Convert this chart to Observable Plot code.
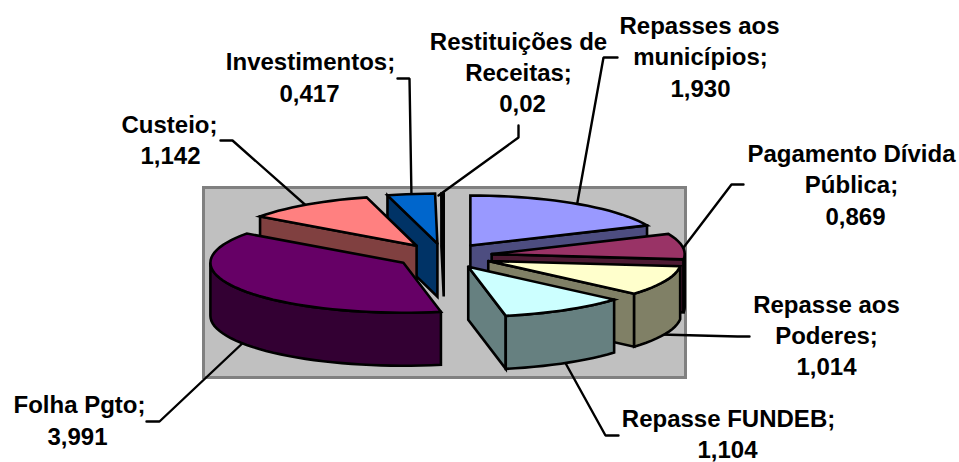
<!DOCTYPE html>
<html>
<head>
<meta charset="utf-8">
<style>html,body{margin:0;padding:0;background:#fff}svg{display:block}</style>
<script src="https://cdn.jsdelivr.net/npm/d3@7"></script>
<script src="https://cdn.jsdelivr.net/npm/@observablehq/plot@0.6"></script>
</head>
<body>
<div id="chart"></div>
<script>
// Data, clockwise from 12 o'clock
const categories = ["Repasses aos municípios", "Pagamento Dívida Pública", "Repasse aos Poderes", "Repasse FUNDEB", "Folha Pgto", "Custeio", "Investimentos", "Restituições de Receitas"];
const values = [1.930, 0.869, 1.014, 1.104, 3.991, 1.142, 0.417, 0.02];
const topColors = ["#9999FF", "#993366", "#FFFFCC", "#CCFFFF", "#660066", "#FF8080", "#0066CC", "#CCCCFF"];
// Back-to-front paint order (indices into categories)
const paintOrder = [0, 1, 2, 3, 7, 6, 5, 4];

// Text labels: [text, centre x, centre y]
const labelText = [
  ["Repasses aos", 699, 26], ["municípios;", 700, 57], ["1,930", 700, 89],
  ["Pagamento Dívida", 851, 154], ["Pública;", 851, 185], ["0,869", 855, 217],
  ["Repasse aos", 826, 305], ["Poderes;", 826, 336], ["1,014", 826, 367],
  ["Repasse FUNDEB;", 728, 419], ["1,104", 727, 450],
  ["Folha Pgto;", 79, 405], ["3,991", 77, 437],
  ["Custeio;", 169, 125], ["1,142", 170, 156],
  ["Investimentos;", 310, 62], ["0,417", 309, 94],
  ["Restituições de", 518, 42], ["Receitas;", 518, 73], ["0,02", 522, 104]
];
// Leader lines
const leaders = [
  [[617,57],[603,57],[576,207]],
  [[743,184],[731,184],[680,251]],
  [[749,336],[737,336],[660,334]],
  [[618,435],[605,435],[563,359]],
  [[146,421],[159,421],[246,339]],
  [[220,140],[232,140],[310,209]],
  [[397,78],[409,78],[411,198]],
  [[518,125],[518,137],[438,195]]
];

// Pie geometry
const cx = 443.5, cy = 255.5, rx = 193, ry = 50, depth = 53, explode = 0.25;
const rad = d => d * Math.PI / 180;
const total = d3.sum(values);
const cum = d3.cumsum(values);
const half = c => { const k = d3.rgb(c); return d3.rgb(k.r / 2, k.g / 2, k.b / 2).formatHex(); };

const slices = values.map((v, i) => {
  const t0 = (cum[i] - v) / total * 360, t1 = cum[i] / total * 360, mid = (t0 + t1) / 2;
  return {
    i, t0, t1, top: topColors[i], side: half(topColors[i]),
    ax: cx + explode * rx * Math.sin(rad(mid)),
    ay: cy - explode * ry * Math.cos(rad(mid))
  };
});
const rim = (s, t, dz = 0) => ({x: s.ax + rx * Math.sin(rad(t)), y: s.ay - ry * Math.cos(rad(t)) + dz});
const arc = (s, a, b) => { const n = Math.max(2, Math.ceil((b - a) / 3)); return d3.range(n + 1).map(k => a + (b - a) * k / n); };

function facesOf(s) {
  const faces = [];
  const apex = {x: s.ax, y: s.ay}, apexB = {x: s.ax, y: s.ay + depth};
  if (Math.sin(rad(s.t1)) > 0.001) {
    faces.push({fill: s.side, pts: [apex, rim(s, s.t1), rim(s, s.t1, depth), apexB, apex]});
  }
  if (Math.sin(rad(s.t0)) < -0.001) {
    faces.push({fill: s.side, pts: [apex, rim(s, s.t0), rim(s, s.t0, depth), apexB, apex]});
  }
  const a = Math.max(s.t0, 90), b = Math.min(s.t1, 270);
  if (b > a) {
    const ts = arc(s, a, b);
    const pts = ts.map(t => rim(s, t)).concat(ts.slice().reverse().map(t => rim(s, t, depth)));
    pts.push(pts[0]);
    faces.push({fill: s.side, pts});
  }
  const topPts = [apex, ...arc(s, s.t0, s.t1).map(t => rim(s, t)), apex];
  faces.push({fill: s.top, pts: topPts});
  return faces;
}
const faces = paintOrder.flatMap(i => facesOf(slices[i]));

const plot = Plot.plot({
  width: 959, height: 462,
  marginTop: 0, marginRight: 0, marginBottom: 0, marginLeft: 0,
  x: {domain: [0, 959], range: [0, 959], axis: null},
  y: {domain: [0, 462], range: [0, 462], axis: null},
  style: {background: "#fff"},
  marks: [
    Plot.rect([{x1: 203.5, x2: 685.5, y1: 187.5, y2: 377.5}], {x1: "x1", x2: "x2", y1: "y1", y2: "y2", fill: "#C0C0C0", stroke: "#808080", strokeWidth: 3}),
    ...leaders.map(l => Plot.line(l, {x: "0", y: "1", stroke: "black", strokeWidth: 2.4, strokeLinejoin: "miter"})),
    ...faces.map(f => Plot.line(f.pts, {x: "x", y: "y", fill: f.fill, stroke: "black", strokeWidth: 2.6, strokeLinejoin: "miter", strokeMiterlimit: 6})),
    Plot.text(labelText, {x: "1", y: "2", text: "0", fontSize: 24, fontWeight: "bold", fontFamily: "'Liberation Sans', Arial, sans-serif", fill: "black", textAnchor: "middle", lineAnchor: "middle"})
  ]
});
document.getElementById("chart").appendChild(plot);
</script>
</body>
</html>
